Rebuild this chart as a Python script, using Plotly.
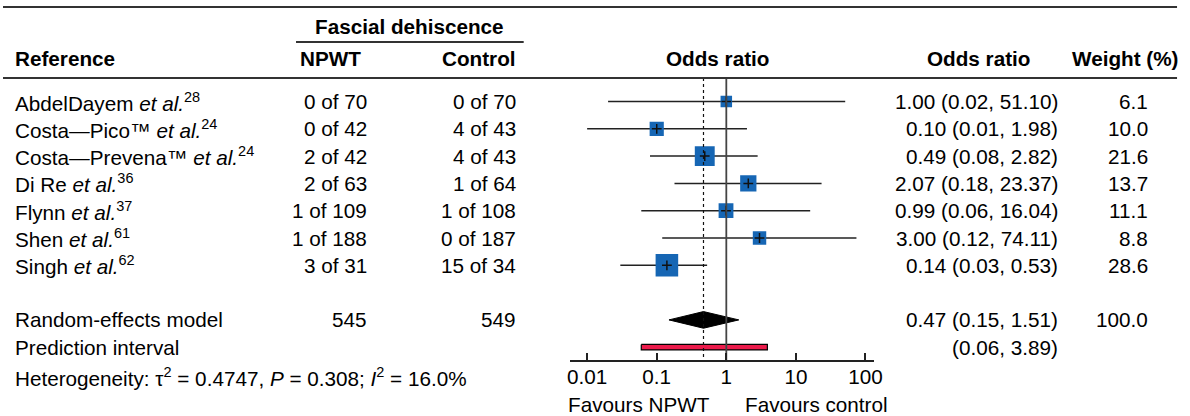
import plotly.graph_objects as go

# ---- study-level data -------------------------------------------------------
studies = ["AbdelDayem", "Costa\u2014Pico\u2122", "Costa\u2014Prevena\u2122",
           "Di Re", "Flynn", "Shen", "Singh"]
ref_nums = [28, 24, 24, 36, 37, 61, 62]
npwt_events = [0, 0, 2, 2, 1, 1, 3]
npwt_total = [70, 42, 42, 63, 109, 188, 31]
ctrl_events = [0, 4, 4, 1, 1, 0, 15]
ctrl_total = [70, 43, 43, 64, 108, 187, 34]
odds_ratio = [1.00, 0.10, 0.49, 2.07, 0.99, 3.00, 0.14]
ci_low = [0.02, 0.01, 0.08, 0.18, 0.06, 0.12, 0.03]
ci_high = [51.10, 1.98, 2.82, 23.37, 16.04, 74.11, 0.53]
weights = [6.1, 10.0, 21.6, 13.7, 11.1, 8.8, 28.6]

# ---- pooled estimate ---------------------------------------------------------
model_or = 0.47
model_low = 0.15
model_high = 1.51
model_weight = 100.0
pred_low = 0.06
pred_high = 3.89
tau2 = 0.4747
p_value = 0.308
i2 = 16.0

tick_values = [0.01, 0.1, 1, 10, 100]
tick_labels = ["0.01", "0.1", "1", "10", "100"]

# ---- layout geometry (pixels) ---------------------------------------------
W, H = 1190, 416
ROW0, STEP = 101.5, 27.3          # centre of first study row, row pitch
FONT = "Liberation Sans, Arial, sans-serif"
FS = 20.7
BLUE = "#1666B4"
RED = "#EC1B4B"
LINE = "#333333"


def row_of(py):
    return (py - ROW0) / STEP


def px(x):
    return x / W


n = len(studies)
model_row = n + 1
pred_row = n + 2
het_row = row_of(377)

fig = go.Figure()

# confidence intervals (drawn first so the squares sit on top)
for i in range(n):
    fig.add_trace(go.Scatter(
        x=[ci_low[i], ci_high[i]], y=[i, i], mode="lines",
        line=dict(color="#222222", width=1.5),
        hoverinfo="skip", showlegend=False))

# weighted squares
fig.add_trace(go.Scatter(
    x=odds_ratio, y=list(range(n)), mode="markers", opacity=1,
    marker=dict(symbol="square", color=BLUE, opacity=1,
                size=[2 + 3.85 * w ** 0.5 for w in weights],
                line=dict(width=0, color=BLUE)),
    hoverinfo="skip", showlegend=False))

# point-estimate cross inside each square
fig.add_trace(go.Scatter(
    x=odds_ratio, y=list(range(n)), mode="markers", opacity=1,
    marker=dict(symbol="cross-thin-open", size=7, color="#111111",
                line=dict(color="#111111", width=1.5)),
    hoverinfo="skip", showlegend=False))

# pooled diamond
dh = 0.305
fig.add_trace(go.Scatter(
    x=[model_low, model_or, model_high, model_or, model_low],
    y=[model_row, model_row - dh, model_row, model_row + dh, model_row],
    mode="lines", fill="toself", fillcolor="#000000",
    line=dict(color="#000000", width=1),
    hoverinfo="skip", showlegend=False))

# prediction interval bar
ph = 0.1
fig.add_trace(go.Scatter(
    x=[pred_low, pred_high, pred_high, pred_low, pred_low],
    y=[pred_row - ph, pred_row - ph, pred_row + ph, pred_row + ph, pred_row - ph],
    mode="lines", fill="toself", fillcolor=RED,
    line=dict(color="#000000", width=1.2),
    hoverinfo="skip", showlegend=False))

# reference line at OR = 1 and dotted pooled-estimate line
top_row = row_of(78)
axis_row = row_of(361)
fig.add_trace(go.Scatter(
    x=[1, 1], y=[top_row, axis_row], mode="lines",
    line=dict(color="#444444", width=1.8),
    hoverinfo="skip", showlegend=False))
fig.add_trace(go.Scatter(
    x=[model_or, model_or], y=[top_row, axis_row], mode="lines",
    line=dict(color="#111111", width=1.2, dash="dot"),
    hoverinfo="skip", showlegend=False))

annotations = []


def text(x, row, s, anchor="left", bold=False, size=FS):
    if bold:
        s = "<b>" + s + "</b>"
    annotations.append(dict(
        x=px(x), y=row, xref="paper", yref="y", text=s, showarrow=False,
        xanchor=anchor, yanchor="middle", borderpad=0,
        font=dict(family=FONT, size=size, color="#000000")))


# column positions
REF_X = 11
NPWT_R = 369
CTRL_R = 519
OR_R = 1067
WT_R = 1158

# header
text(411, row_of(26), "Fascial dehiscence", "center", bold=True)
text(REF_X, row_of(58), "Reference", bold=True)
text(NPWT_R - 38, row_of(58), "NPWT", "center", bold=True)
text(CTRL_R - 38, row_of(58), "Control", "center", bold=True)
text(722, row_of(58), "Odds ratio", "center", bold=True)
text(985, row_of(58), "Odds ratio", "center", bold=True)
text(1134, row_of(58), "Weight (%)", "center", bold=True)

# study rows
for i in range(n):
    text(REF_X, i, f"{studies[i]} <i>et al.</i><sup>{ref_nums[i]}</sup>")
    text(NPWT_R, i, f"{npwt_events[i]} of {npwt_total[i]}", "right")
    text(CTRL_R, i, f"{ctrl_events[i]} of {ctrl_total[i]}", "right")
    text(OR_R, i, f"{odds_ratio[i]:.2f} ({ci_low[i]:.2f}, {ci_high[i]:.2f})", "right")
    text(WT_R, i, f"{weights[i]:.1f}", "right")

# pooled rows
text(REF_X, model_row, "Random-effects model")
text(NPWT_R, model_row, f"{sum(npwt_total)}", "right")
text(CTRL_R, model_row, f"{sum(ctrl_total)}", "right")
text(OR_R, model_row, f"{model_or:.2f} ({model_low:.2f}, {model_high:.2f})", "right")
text(WT_R, model_row, f"{model_weight:.1f}", "right")
text(REF_X, pred_row, "Prediction interval")
text(OR_R, pred_row, f"({pred_low:.2f}, {pred_high:.2f})", "right")
text(REF_X, het_row,
     f"Heterogeneity: \u03c4<sup>2</sup> = {tau2:.4f}, <i>P</i> = {p_value:.3f}; "
     f"<i>I</i><sup>2</sup> = {i2:.1f}%")

# direction labels under the axis
text(642, row_of(404), "Favours NPWT", "center")
text(822, row_of(404), "Favours control", "center")

# horizontal rules
shapes = []
for py, x0, x1 in [(7, 0, 1186), (78, 0, 1186), (42, 296, 526)]:
    shapes.append(dict(type="line", xref="paper", yref="y",
                       x0=px(x0), x1=px(x1), y0=row_of(py), y1=row_of(py),
                       line=dict(color=LINE, width=2)))

fig.update_layout(
    width=W, height=H, margin=dict(l=0, r=0, t=0, b=0),
    paper_bgcolor="#ffffff", plot_bgcolor="rgba(0,0,0,0)",
    showlegend=False, annotations=annotations, shapes=shapes,
    xaxis=dict(type="log", domain=[px(573), px(880)], range=[-2.243, 2.124],
               anchor="free", position=1 - 361 / H,
               showline=True, linecolor="#222222", linewidth=1.5,
               ticks="inside", ticklen=7, tickwidth=1.5, tickcolor="#222222",
               ticklabelstandoff=-3,
               tickvals=tick_values, ticktext=tick_labels,
               tickfont=dict(family=FONT, size=FS, color="#000000"),
               showgrid=False, zeroline=False, fixedrange=True),
    yaxis=dict(domain=[0, 1], range=[row_of(H), row_of(0)], visible=False,
               fixedrange=True),
)

fig.write_html("out.html")
